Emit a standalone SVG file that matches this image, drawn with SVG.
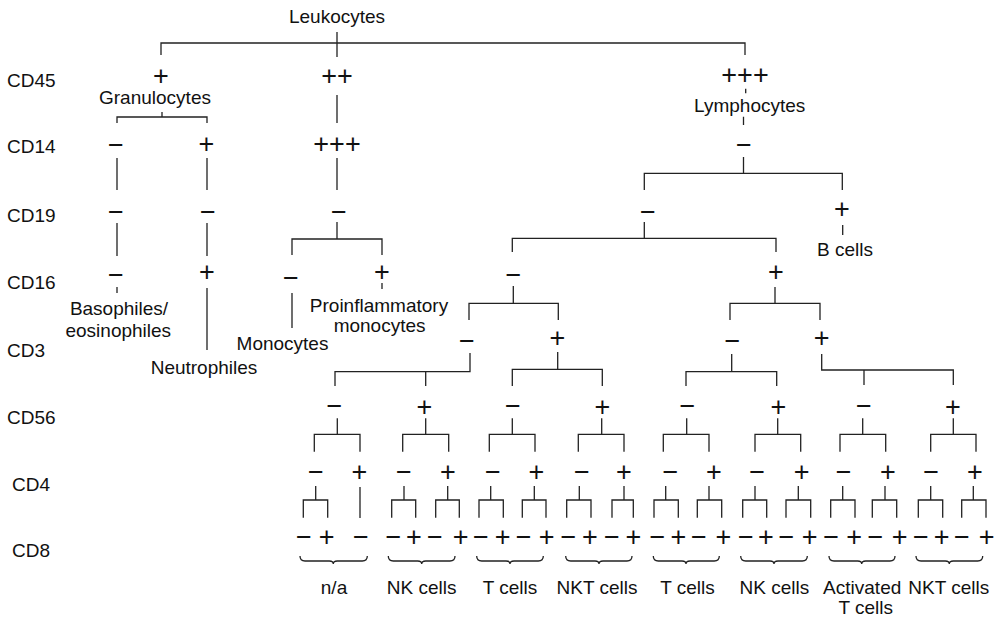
<svg xmlns="http://www.w3.org/2000/svg" width="998" height="618" viewBox="0 0 998 618">
<style>
.t{font-family:"Liberation Sans",Arial,sans-serif;font-size:19px;fill:#111;text-anchor:middle}
.r{font-family:"Liberation Sans",Arial,sans-serif;font-size:19px;fill:#111}
.s{font-family:"Liberation Sans",Arial,sans-serif;font-size:27px;fill:#111;text-anchor:middle}
.c path{fill:none;stroke:#222;stroke-width:1.3}
</style>
<rect width="998" height="618" fill="#fff"/>
<g id="rows">
<text class="r" x="7" y="87">CD45</text>
<text class="r" x="7" y="153">CD14</text>
<text class="r" x="7" y="222">CD19</text>
<text class="r" x="7" y="289">CD16</text>
<text class="r" x="7" y="357">CD3</text>
<text class="r" x="7" y="424">CD56</text>
<text class="r" x="12" y="491">CD4</text>
<text class="r" x="12" y="557">CD8</text>
</g>
<g class="c" id="connectors">
<path d="M337,32V57M161,55V43H745V55"/>
<path d="M162,112V117M117,123V117H207V123M117,158V190M207,158V190M117,223V256M207,223V256M117,287V293M207,288V350"/>
<path d="M337,95V123M337,158V190M337,222V239M292,255V239H382V255M292,293V328M382,283V289"/>
<path d="M745.7,88.7V93.3M743.5,116.7V125M743.5,157V173.3M644.3,190V173.3H842.3V190M842.7,225V235"/>
<path d="M644.3,222V238.3M512.3,252V238.3H776V252M513.3,286V303.3M469,320V303.3H558.3V320M775,287V303.3M730,320V303.3H820V320"/>
<path d="M470,353V371.7H335V386M425.7,371.7V386M557.7,352V369.3M512.3,386V369.3H602.3V386M731.7,354V371.7M686,386V371.7H776.7V386M821.7,354V370H953.3V385M864,370V385"/>
<path d="M337.3,418.3V434.3M314.3,451.7V434.3H360V451.7M425.7,418.3V434.3M402.7,451.7V434.3H448.7V451.7M512.3,418.3V434.3M489.3,451.7V434.3H535V451.7M601.7,418.3V434.3M578.3,451.7V434.3H624V451.7M686.7,418.3V434.3M663.3,451.7V434.3H709V451.7M777.7,418.3V434.3M755,451.7V434.3H800.7V451.7M862.7,418.3V434.3M840,451.7V434.3H885.7V451.7M953.3,418.3V434.3M930.7,451.7V434.3H976V451.7"/>
<path d="M315.7,486V500M303.3,517.7V500H327.7V517.7M360,487V518M404,486V500M391.7,517.7V500H415.7V517.7M447.7,486V500M435.7,517.7V500H459.3V517.7M490.7,486V500M479,517.7V500H503.3V517.7M534.3,486V500M522.3,517.7V500H546V517.7M579.3,486V500M566.7,517.7V500H591V517.7M624,486V500M612,517.7V500H633.3V517.7"/>
<path d="M665.7,486V500M654,517.7V500H678.3V517.7M709,486V500M697.3,517.7V500H721.7V517.7M755,486V500M742.7,517.7V500H766.7V517.7M798.3,486V500M786,517.7V500H810.7V517.7M842.7,486V500M830.7,517.7V500H855V517.7M885,486V500M872.3,517.7V500H896.7V517.7M930.7,486V500M918.3,517.7V500H942.7V517.7M973.3,486V500M961.7,517.7V500H986V517.7"/>
<path d="M300,556q0,5 5,5H329.3q4,0 4,3q0,-3 4,-3H362.3q5,0 5,-5"/>
<path d="M388.3,556q0,5 5,5H417.7q4,0 4,3q0,-3 4,-3H450q5,0 5,-5"/>
<path d="M476.7,556q0,5 5,5H506q4,0 4,3q0,-3 4,-3H538.3q5,0 5,-5"/>
<path d="M565.7,556q0,5 5,5H595q4,0 4,3q0,-3 4,-3H627q5,0 5,-5"/>
<path d="M653.3,556q0,5 5,5H682q4,0 4,3q0,-3 4,-3H714.3q5,0 5,-5"/>
<path d="M740.7,556q0,5 5,5H770q4,0 4,3q0,-3 4,-3H802.3q5,0 5,-5"/>
<path d="M829,556q0,5 5,5H857.7q4,0 4,3q0,-3 4,-3H890q5,0 5,-5"/>
<path d="M916,556q0,5 5,5H945.3q4,0 4,3q0,-3 4,-3H977.7q5,0 5,-5"/>
</g>
<g id="leukocytes"><text class="t" x="337" y="23.3">Leukocytes</text></g>
<g id="cd45">
<text class="s" x="161" y="84.7">+</text>
<text class="s" x="337" y="85.2">++</text>
<text class="s" x="745" y="84.2">+++</text>
</g>
<g id="granulocytes"><text class="t" x="155" y="104">Granulocytes</text></g>
<g id="lymphocytes"><text class="t" x="749.7" y="112.3">Lymphocytes</text></g>
<g id="cd14">
<text class="s" x="116" y="153.7">−</text>
<text class="s" x="206.5" y="153.2">+</text>
<text class="s" x="337" y="152.7">+++</text>
<text class="s" x="744" y="154">−</text>
</g>
<g id="cd19">
<text class="s" x="116" y="220.7">−</text>
<text class="s" x="208" y="220.7">−</text>
<text class="s" x="339" y="220.7">−</text>
<text class="s" x="648" y="220.7">−</text>
<text class="s" x="842" y="218">+</text>
</g>
<g id="bcells"><text class="t" x="845" y="255.7">B cells</text></g>
<g id="cd16">
<text class="s" x="116" y="283.7">−</text>
<text class="s" x="207" y="281.2">+</text>
<text class="s" x="291" y="287">−</text>
<text class="s" x="382" y="281.4">+</text>
<text class="s" x="513.3" y="283.7">−</text>
<text class="s" x="776" y="281.4">+</text>
</g>
<g id="basophiles"><text class="t" x="119" y="315">Basophiles/</text><text class="t" x="118.3" y="337">eosinophiles</text></g>
<g id="neutrophiles"><text class="t" x="204" y="374">Neutrophiles</text></g>
<g id="monocytes"><text class="t" x="282.5" y="350">Monocytes</text></g>
<g id="proinflammatory"><text class="t" x="379" y="311.7">Proinflammatory</text><text class="t" x="379.6" y="331.7">monocytes</text></g>
<g id="cd3">
<text class="s" x="467" y="349.7">−</text>
<text class="s" x="557.5" y="347">+</text>
<text class="s" x="732.3" y="349.7">−</text>
<text class="s" x="821.7" y="347">+</text>
</g>
<g id="cd56">
<text class="s" x="334.5" y="415.4">−</text>
<text class="s" x="424.5" y="416.4">+</text>
<text class="s" x="512.8" y="415.4">−</text>
<text class="s" x="602.5" y="416.4">+</text>
<text class="s" x="687.5" y="415.4">−</text>
<text class="s" x="778.5" y="416.4">+</text>
<text class="s" x="864" y="415.4">−</text>
<text class="s" x="953" y="416.4">+</text>
</g>
<g id="cd4">
<text class="s" x="315.8" y="481.4">−</text>
<text class="s" x="359.5" y="481.4">+</text>
<text class="s" x="404" y="481.4">−</text>
<text class="s" x="447.8" y="481.4">+</text>
<text class="s" x="492.8" y="481.4">−</text>
<text class="s" x="536.3" y="481.4">+</text>
<text class="s" x="582" y="481.4">−</text>
<text class="s" x="624" y="481.4">+</text>
<text class="s" x="670.3" y="481.4">−</text>
<text class="s" x="714" y="481.4">+</text>
<text class="s" x="757.2" y="481.4">−</text>
<text class="s" x="801.7" y="481.4">+</text>
<text class="s" x="843.7" y="481.4">−</text>
<text class="s" x="888" y="481.4">+</text>
<text class="s" x="931.2" y="481.4">−</text>
<text class="s" x="975" y="481.4">+</text>
</g>
<g id="cd8">
<text class="s" x="304" y="546.4">−</text>
<text class="s" x="326.7" y="546.4">+</text>
<text class="s" x="361" y="546.4">−</text>
<text class="s" x="393.3" y="546.4">−</text>
<text class="s" x="414" y="546.4">+</text>
<text class="s" x="435" y="546.4">−</text>
<text class="s" x="460.7" y="546.4">+</text>
<text class="s" x="481" y="546.4">−</text>
<text class="s" x="502.7" y="546.4">+</text>
<text class="s" x="523.7" y="546.4">−</text>
<text class="s" x="546.7" y="546.4">+</text>
<text class="s" x="568.3" y="546.4">−</text>
<text class="s" x="590" y="546.4">+</text>
<text class="s" x="612" y="546.4">−</text>
<text class="s" x="633.3" y="546.4">+</text>
<text class="s" x="657.5" y="546.4">−</text>
<text class="s" x="678.3" y="546.4">+</text>
<text class="s" x="698.8" y="546.4">−</text>
<text class="s" x="723.3" y="546.4">+</text>
<text class="s" x="745.8" y="546.4">−</text>
<text class="s" x="766" y="546.4">+</text>
<text class="s" x="786.3" y="546.4">−</text>
<text class="s" x="809.7" y="546.4">+</text>
<text class="s" x="831.2" y="546.4">−</text>
<text class="s" x="854.2" y="546.4">+</text>
<text class="s" x="875.5" y="546.4">−</text>
<text class="s" x="899.7" y="546.4">+</text>
<text class="s" x="920.8" y="546.4">−</text>
<text class="s" x="941.7" y="546.4">+</text>
<text class="s" x="962" y="546.4">−</text>
<text class="s" x="986.7" y="546.4">+</text>
</g>
<g id="na"><text class="t" x="334" y="594">n/a</text></g>
<g id="nk1"><text class="t" x="421.7" y="594">NK cells</text></g>
<g id="t1"><text class="t" x="510" y="594">T cells</text></g>
<g id="nkt1"><text class="t" x="597" y="594">NKT cells</text></g>
<g id="t2"><text class="t" x="687.5" y="594">T cells</text></g>
<g id="nk2"><text class="t" x="774.3" y="594">NK cells</text></g>
<g id="activated"><text class="t" x="862.2" y="594">Activated</text><text class="t" x="865.8" y="614">T cells</text></g>
<g id="nkt2"><text class="t" x="948.8" y="594">NKT cells</text></g>
</svg>
